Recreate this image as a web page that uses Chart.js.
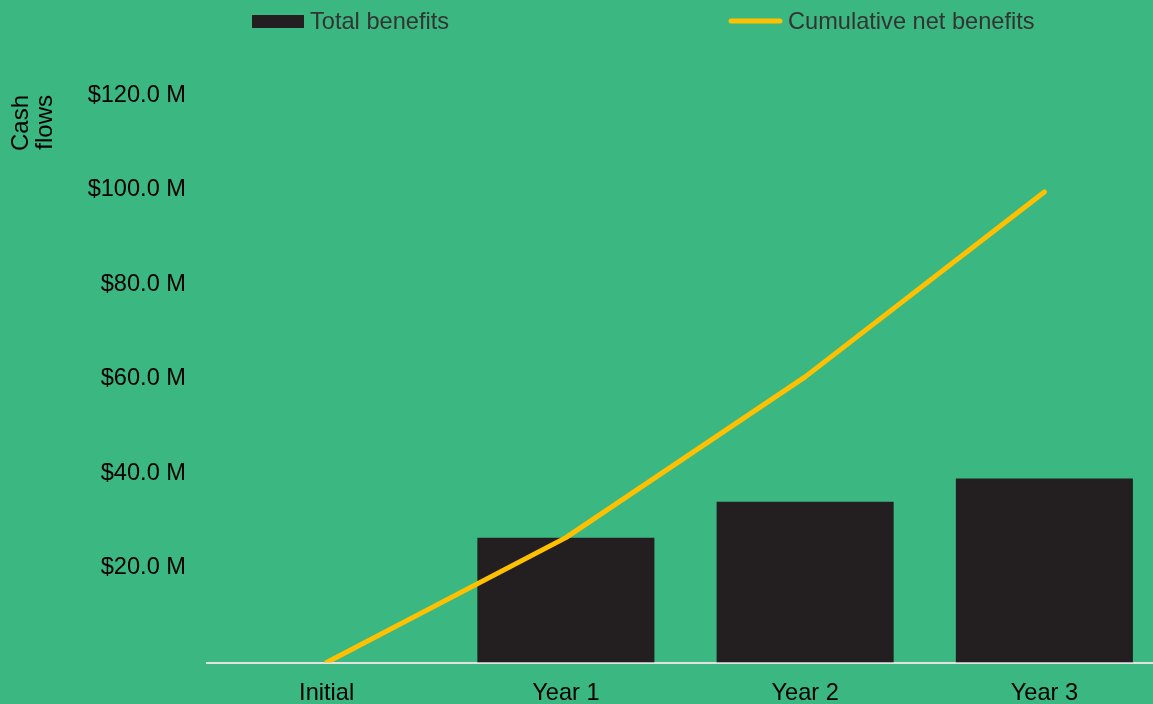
<!DOCTYPE html>
<html>
<head>
<meta charset="utf-8">
<script src="https://cdn.jsdelivr.net/npm/chart.js@4/dist/chart.umd.min.js"></script>
<style>
  html, body { margin: 0; padding: 0; background: #3bb881; overflow: hidden; }
  canvas { display: block; }
</style>
</head>
<body>
<canvas id="chart" width="1164" height="704"></canvas>
<script>
// values, in $ millions
const categories = ['Initial', 'Year 1', 'Year 2', 'Year 3'];
const totalBenefits = [null, 26.4, 34.0, 38.9];
const cumulativeNet = [0, 26.4, 60.4, 99.5];
const yTicks = [0, 20, 40, 60, 80, 100, 120];

const FONT = '"Liberation Sans", Arial, sans-serif';

// legend drawn by hand so box/text spacing matches the original
const legendPlugin = {
    id: 'manualLegend',
    afterDraw(chart) {
        const ctx = chart.ctx;
        const starts = [252, 728];
        ctx.save();
        ctx.font = '23.6px ' + FONT;
        ctx.textBaseline = 'alphabetic';
        chart.data.datasets.forEach((ds, i) => {
            const x = starts[i];
            if (ds.type === 'line') {
                ctx.strokeStyle = ds.borderColor;
                ctx.lineWidth = 5;
                ctx.lineCap = 'round';
                ctx.beginPath();
                ctx.moveTo(x + 3, 21);
                ctx.lineTo(x + 52, 21);
                ctx.stroke();
                ctx.fillStyle = '#333333';
                ctx.fillText(ds.label, x + 60, 29);
            } else {
                ctx.fillStyle = ds.backgroundColor;
                ctx.fillRect(x, 15, 52, 13);
                ctx.fillStyle = '#333333';
                ctx.fillText(ds.label, x + 58, 29);
            }
        });
        ctx.restore();
    }
};

new Chart(document.getElementById('chart').getContext('2d'), {
    data: {
        labels: categories,
        datasets: [
            {
                type: 'bar',
                label: 'Total benefits',
                data: totalBenefits,
                backgroundColor: '#231f20',
                categoryPercentage: 1,
                barPercentage: 0.74,
                order: 2
            },
            {
                type: 'line',
                label: 'Cumulative net benefits',
                data: cumulativeNet,
                borderColor: '#ffc000',
                backgroundColor: '#ffc000',
                borderWidth: 5,
                borderCapStyle: 'round',
                borderJoinStyle: 'round',
                pointRadius: 0,
                tension: 0,
                fill: false,
                order: 1
            }
        ]
    },
    options: {
        responsive: false,
        animation: false,
        devicePixelRatio: 1,
        layout: {padding: {top: 95, left: 0, right: 0, bottom: 0}},
        plugins: {
            legend: {display: false},
            tooltip: {enabled: false}
        },
        scales: {
            x: {
                offset: true,
                grid: {display: false},
                border: {display: true, color: '#e2e2e2', width: 2},
                ticks: {
                    color: '#000000',
                    font: {family: FONT, size: 23.6},
                    padding: 9,
                    maxRotation: 0,
                    autoSkip: false
                },
                afterFit(scale) { scale.height = 41.5; }
            },
            y: {
                min: 0,
                max: 120,
                grid: {display: false},
                border: {display: false},
                afterBuildTicks(scale) {
                    scale.ticks = yTicks.map(v => ({value: v}));
                },
                ticks: {
                    color: '#000000',
                    font: {family: FONT, size: 23.6},
                    padding: 13,
                    callback: v => v === 0 ? '' : '$' + v.toFixed(1) + ' M'
                },
                title: {
                    display: true,
                    text: ['Cash', 'flows'],
                    align: 'end',
                    color: '#000000',
                    font: {family: FONT, size: 24, lineHeight: 1},
                    padding: {top: 9, bottom: 0}
                },
                afterFit(scale) { scale.width = 207; }
            }
        }
    },
    plugins: [legendPlugin]
});
</script>
</body>
</html>
